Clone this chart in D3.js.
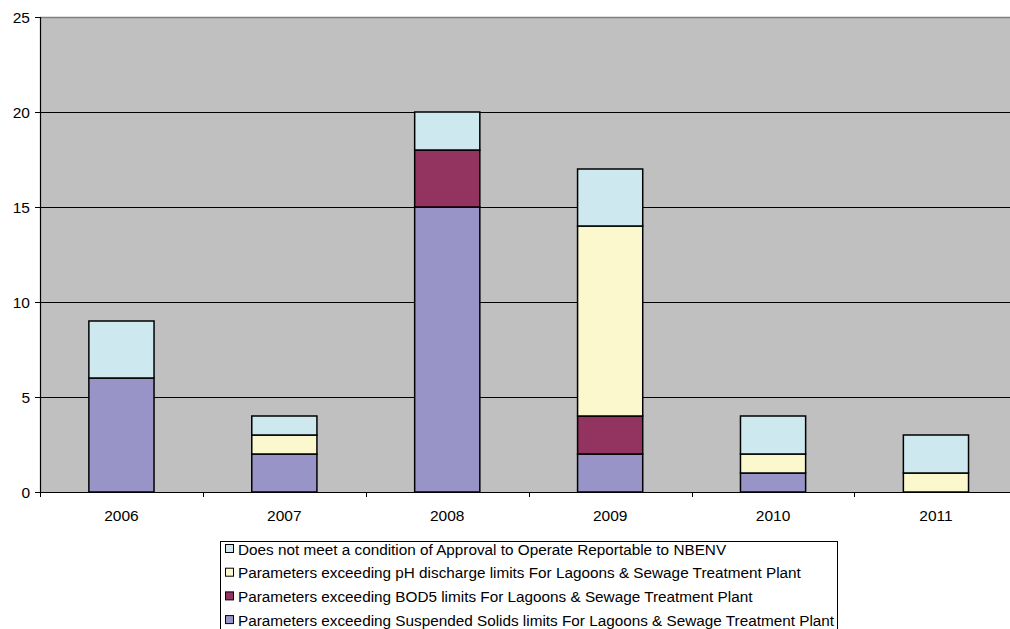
<!DOCTYPE html>
<html>
<head>
<meta charset="utf-8">
<script src="https://cdn.jsdelivr.net/npm/d3@7"></script>
<style>
  body { margin: 0; background: #fff; }
  text { font-family: Arial, "Liberation Sans", sans-serif; fill: #000; }
</style>
</head>
<body>
<div id="chart"></div>
<script>
var years = ["2006", "2007", "2008", "2009", "2010", "2011"];
var suspendedSolids = [6, 2, 15, 2, 1, 0];
var bod5 = [0, 0, 3, 2, 0, 0];
var phLimits = [0, 1, 0, 10, 1, 1];
var approvalCondition = [3, 1, 2, 3, 2, 2];
var yTicks = [0, 5, 10, 15, 20, 25];

var seriesNames = [
  "Parameters exceeding Suspended Solids limits For Lagoons & Sewage Treatment Plant",
  "Parameters exceeding BOD5 limits For Lagoons & Sewage Treatment Plant",
  "Parameters exceeding pH discharge limits For Lagoons & Sewage Treatment Plant",
  "Does not meet a condition of Approval to Operate Reportable to NBENV"
];
var seriesColors = ["#9894c8", "#933360", "#fbf8cd", "#cde9ef"];
var keys = ["ss", "bod", "ph", "cond"];

var rows = years.map(function (yr, i) {
  return { year: yr, ss: suspendedSolids[i], bod: bod5[i], ph: phLimits[i], cond: approvalCondition[i] };
});

var width = 1010, height = 629;
var plotLeft = 40, plotRight = 1017.4, plotTop = 17, plotBottom = 492;

var svg = d3.select("#chart").append("svg")
            .attr("width", width)
            .attr("height", height);

var x = d3.scaleBand()
          .domain(years)
          .range([plotLeft, plotRight])
          .paddingInner(0.6)
          .paddingOuter(0.3);

var y = d3.scaleLinear()
          .domain([0, 25])
          .range([plotBottom, plotTop]);

// plot background
svg.append("rect")
   .attr("x", plotLeft)
   .attr("y", plotTop)
   .attr("width", plotRight - plotLeft)
   .attr("height", plotBottom - plotTop)
   .style("fill", "#c0c0c0");

// gridlines
svg.selectAll("line.grid")
   .data(yTicks.filter(function (d) { return d > 0 && d < 25; }))
   .enter()
   .append("line")
   .attr("class", "grid")
   .attr("x1", plotLeft)
   .attr("x2", plotRight)
   .attr("y1", function (d) { return Math.round(y(d)) + 0.5; })
   .attr("y2", function (d) { return Math.round(y(d)) + 0.5; })
   .style("stroke", "#000")
   .style("stroke-width", 1);

// top border
svg.append("line")
   .attr("x1", plotLeft).attr("x2", plotRight)
   .attr("y1", plotTop + 0.5).attr("y2", plotTop + 0.5)
   .style("stroke", "#808080")
   .style("stroke-width", 1.5);

// stacked bars
var stacked = d3.stack().keys(keys)(rows);
var layers = svg.selectAll("g.layer")
                .data(stacked)
                .enter()
                .append("g")
                .attr("class", "layer")
                .style("fill", function (d, i) { return seriesColors[i]; });

layers.selectAll("rect")
      .data(function (d) { return d.filter(function (p) { return p[1] > p[0]; }); })
      .enter()
      .append("rect")
      .attr("x", function (d) { return x(d.data.year); })
      .attr("y", function (d) { return y(d[1]); })
      .attr("width", x.bandwidth())
      .attr("height", function (d) { return y(d[0]) - y(d[1]); })
      .style("stroke", "#000")
      .style("stroke-width", 1.5);

// y axis
svg.append("line")
   .attr("x1", plotLeft + 0.5).attr("x2", plotLeft + 0.5)
   .attr("y1", plotTop).attr("y2", plotBottom)
   .style("stroke", "#000")
   .style("stroke-width", 1.2);

svg.selectAll("line.ytick")
   .data(yTicks)
   .enter()
   .append("line")
   .attr("class", "ytick")
   .attr("x1", plotLeft - 5).attr("x2", plotLeft)
   .attr("y1", function (d) { return Math.round(y(d)) + 0.5; })
   .attr("y2", function (d) { return Math.round(y(d)) + 0.5; })
   .style("stroke", "#000");

svg.selectAll("text.ylab")
   .data(yTicks)
   .enter()
   .append("text")
   .attr("class", "ylab")
   .attr("x", 30)
   .attr("y", function (d) { return y(d); })
   .attr("dy", "0.36em")
   .attr("text-anchor", "end")
   .style("font-size", "15.5px")
   .text(function (d) { return d; });

// x axis
svg.append("line")
   .attr("x1", plotLeft).attr("x2", plotRight)
   .attr("y1", plotBottom + 0.5).attr("y2", plotBottom + 0.5)
   .style("stroke", "#000")
   .style("stroke-width", 1.2);

var step = x.step();
svg.selectAll("line.xtick")
   .data(years)
   .enter()
   .append("line")
   .attr("class", "xtick")
   .attr("x1", function (d) { return Math.round(x(d) - step * 0.3) + 0.5; })
   .attr("x2", function (d) { return Math.round(x(d) - step * 0.3) + 0.5; })
   .attr("y1", plotBottom)
   .attr("y2", plotBottom + 5)
   .style("stroke", "#000");

svg.selectAll("text.xlab")
   .data(years)
   .enter()
   .append("text")
   .attr("class", "xlab")
   .attr("x", function (d) { return x(d) + x.bandwidth() / 2; })
   .attr("y", 521)
   .attr("text-anchor", "middle")
   .style("font-size", "15.5px")
   .text(function (d) { return d; });

// legend
var legend = svg.append("g");
legend.append("rect")
      .attr("x", 220.5)
      .attr("y", 541.5)
      .attr("width", 617)
      .attr("height", 100)
      .style("fill", "#fff")
      .style("stroke", "#000")
      .style("stroke-width", 1);

var legendOrder = [3, 2, 1, 0];
var items = legend.selectAll("g.item")
                  .data(legendOrder)
                  .enter()
                  .append("g")
                  .attr("class", "item")
                  .attr("transform", function (d, i) { return "translate(225," + (549 + i * 23.7) + ")"; });

items.append("rect")
     .attr("x", 0.5)
     .attr("y", -4.5)
     .attr("width", 8)
     .attr("height", 8)
     .style("fill", function (d) { return seriesColors[d]; })
     .style("stroke", "#000");

items.append("text")
     .attr("x", 13)
     .attr("y", 0)
     .attr("dy", "0.36em")
     .style("font-size", "15.3px")
     .text(function (d) { return seriesNames[d]; });
</script>
</body>
</html>
